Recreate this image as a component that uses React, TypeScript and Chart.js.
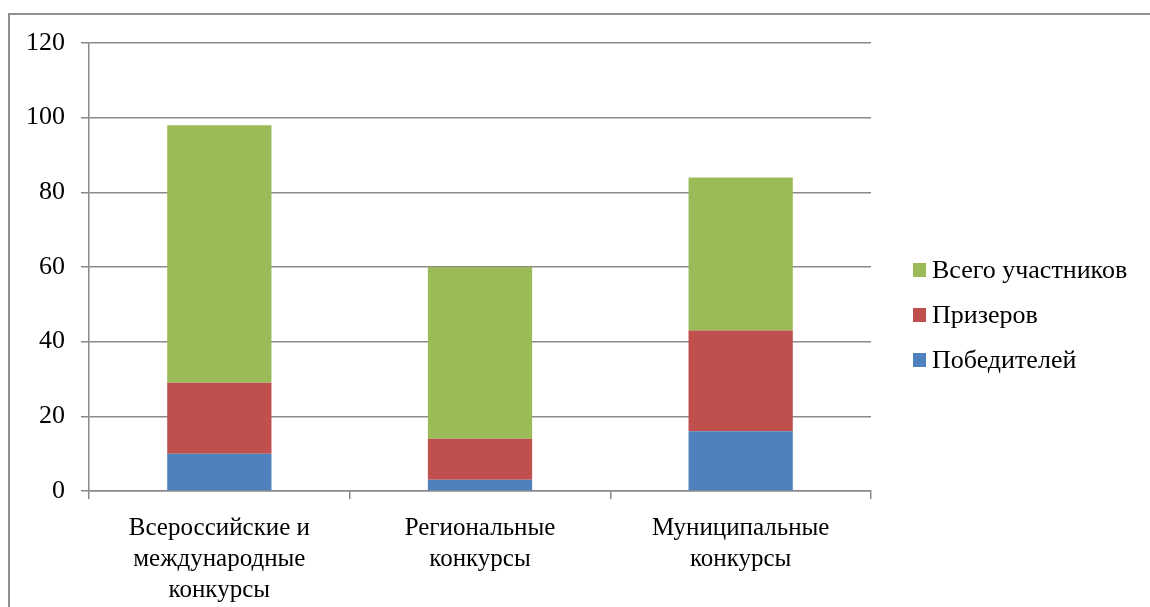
import React, { useEffect, useRef } from "react";
import { Chart, registerables } from "chart.js";

Chart.register(...registerables);

const categories: string[][] = [
  ["Всероссийские и", "международные", "конкурсы"],
  ["Региональные", "конкурсы"],
  ["Муниципальные", "конкурсы"],
];
const winners = [10, 3, 16];
const prizewinners = [19, 11, 27];
const participants = [69, 46, 41];
const yTicks = [0, 20, 40, 60, 80, 100, 120];

const seriesNames = ["Победителей", "Призеров", "Всего участников"];
const seriesColors = ["#4F81BD", "#C0504D", "#9BBB59"];

const FONT = "'Liberation Serif', 'Times New Roman', serif";

const legendPlugin = {
  id: "customLegend",
  afterDraw(chart: any) {
    const ctx = chart.ctx;
    const ds = chart.data.datasets;
    const x0 = 913;
    const ys = [270, 315, 360];
    ctx.save();
    ctx.font = `26px ${FONT}`;
    ctx.textBaseline = "middle";
    for (let i = 0; i < ds.length; i++) {
      const d = ds[ds.length - 1 - i];
      const y = ys[i];
      ctx.fillStyle = d.backgroundColor;
      ctx.fillRect(x0, y - 7, 13, 14);
      ctx.fillStyle = "#000";
      ctx.fillText(d.label, x0 + 19, y + 1);
    }
    ctx.restore();
  },
};

export default function App() {
  const ref = useRef<HTMLCanvasElement>(null);
  useEffect(() => {
    if (!ref.current) return;
    const data = [winners, prizewinners, participants];
    const chart = new Chart(ref.current, {
      type: "bar",
      data: {
        labels: categories as any,
        datasets: data.map((vals, i) => ({
          label: seriesNames[i],
          data: vals,
          backgroundColor: seriesColors[i],
          borderWidth: 0,
          barPercentage: 0.4,
          categoryPercentage: 1,
        })),
      },
      options: {
        animation: false,
        responsive: false,
        maintainAspectRatio: false,
        layout: { padding: { left: 0, top: 43, right: 279, bottom: 0 } },
        plugins: { legend: { display: false }, tooltip: { enabled: false } },
        scales: {
          x: {
            stacked: true,
            grid: {
              display: true,
              offset: true,
              drawOnChartArea: false,
              drawTicks: true,
              tickLength: 8,
              color: "#8a8a8a",
              lineWidth: 1.5,
            },
            border: { display: true, color: "#8a8a8a", width: 1.5 },
            ticks: {
              color: "#000",
              font: { family: FONT, size: 25, lineHeight: 1.24 },
              padding: 14,
              maxRotation: 0,
              autoSkip: false,
            },
            afterFit(scale: any) {
              scale.height = 116;
            },
          },
          y: {
            stacked: true,
            min: 0,
            max: 120,
            afterBuildTicks(scale: any) {
              scale.ticks = yTicks.map((v) => ({ value: v }));
            },
            grid: {
              color: "#8a8a8a",
              lineWidth: 1.5,
              tickLength: 8,
            },
            border: { display: true, color: "#8a8a8a", width: 1.5 },
            ticks: {
              color: "#000",
              font: { family: FONT, size: 26 },
              padding: 16,
            },
            afterFit(scale: any) {
              scale.width = 89;
            },
          },
        },
      },
      plugins: [legendPlugin],
    });
    return () => chart.destroy();
  }, []);

  return (
    <div style={{ position: "absolute", left: 0, top: 0, width: 1150, height: 607, overflow: "hidden", background: "#fff" }}>
      <div
        style={{
          position: "absolute",
          left: 8,
          top: 13,
          width: 1200,
          height: 700,
          borderTop: "2px solid #8f8f8f",
          borderLeft: "2px solid #8f8f8f",
          boxSizing: "border-box",
        }}
      />
      <canvas ref={ref} width={1150} height={607} style={{ position: "absolute", left: 0, top: 0 }} />
    </div>
  );
}
